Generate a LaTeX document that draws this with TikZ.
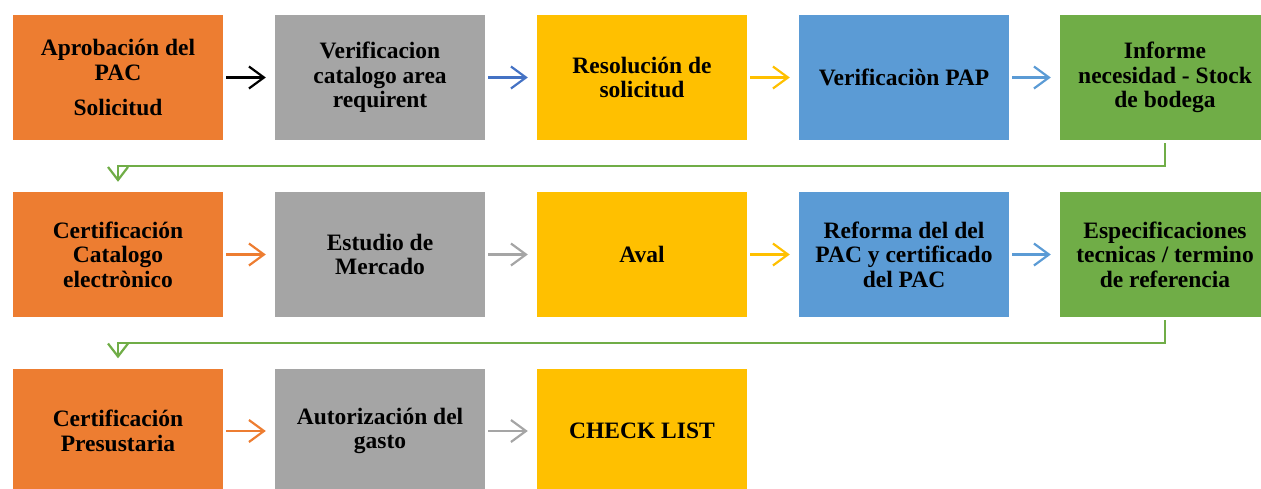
\documentclass[tikz,border=0pt]{standalone}
\usepackage{fontspec}
\setmainfont{Liberation Serif}
\usetikzlibrary{arrows.meta}
\definecolor{cOrange}{HTML}{ED7D31}
\definecolor{cGray}{HTML}{A5A5A5}
\definecolor{cYellow}{HTML}{FFC000}
\definecolor{cBlue}{HTML}{5B9BD5}
\definecolor{cDBlue}{HTML}{4472C4}
\definecolor{cGreen}{HTML}{70AD47}
\tikzset{
  box/.style={rectangle, minimum width=210pt, minimum height=125pt, inner sep=0pt,
    align=center, text=black, font=\fontsize{23.5}{24.5}\selectfont\bfseries},
  flow/.style={line width=2.2pt, -{Straight Barb[length=15pt,width=22pt,line width=2.2pt]},
    shorten <=3pt, shorten >=9pt},
  wrap/.style={line width=2.2pt, draw=cGreen, -{Straight Barb[length=13pt,width=20pt,line width=2.2pt]},
    shorten <=3pt, shorten >=10pt}
}
\begin{document}
\begin{tikzpicture}[x=1pt,y=-1pt]
\useasboundingbox (0,0) rectangle (1261,488);
% row 1
\node[box, fill=cOrange] (a1) at (118,77.5) {Aprobación del\\PAC\\[11pt]Solicitud};
\node[box, fill=cGray] (b1) at (380,77.5) {Verificacion\\catalogo area\\requirent};
\node[box, fill=cYellow] (c1) at (642,77.5) {Resolución de\\solicitud};
\node[box, fill=cBlue] (d1) at (904,77.5) {Verificaciòn PAP};
\node[box, fill=cGreen] (e1) at (1165,77.5) {Informe\\necesidad - Stock\\de bodega};
% row 2
\node[box, fill=cOrange] (a2) at (118,254.5) {Certificación\\Catalogo\\electrònico};
\node[box, fill=cGray] (b2) at (380,254.5) {Estudio de\\Mercado};
\node[box, fill=cYellow] (c2) at (642,254.5) {Aval};
\node[box, fill=cBlue] (d2) at (904,254.5) {Reforma del del\\PAC y certificado\\del PAC};
\node[box, fill=cGreen] (e2) at (1165,254.5) {Especificaciones\\tecnicas / termino\\de referencia};
% row 3
\node[box, fill=cOrange] (a3) at (118,431) {Certificación\\Presustaria};
\node[box, fill=cGray] (b3) at (380,431) {Autorización del\\gasto};
\node[box, fill=cYellow] (c3) at (642,431) {CHECK LIST};
% arrows row 1
\draw[flow, draw=black] (a1) -- (b1);
\draw[flow, draw=cDBlue] (b1) -- (c1);
\draw[flow, draw=cYellow] (c1) -- (d1);
\draw[flow, draw=cBlue] (d1) -- (e1);
% arrows row 2
\draw[flow, draw=cOrange] (a2) -- (b2);
\draw[flow, draw=cGray] (b2) -- (c2);
\draw[flow, draw=cYellow] (c2) -- (d2);
\draw[flow, draw=cBlue] (d2) -- (e2);
% arrows row 3
\draw[flow, draw=cOrange] (a3) -- (b3);
\draw[flow, draw=cGray] (b3) -- (c3);
% wrap connectors
\draw[wrap] (e1.south) -- ++(0,25.5) -| (a2.north);
\draw[wrap] (e2.south) -- ++(0,25.5) -| (a3.north);
\end{tikzpicture}
\end{document}
